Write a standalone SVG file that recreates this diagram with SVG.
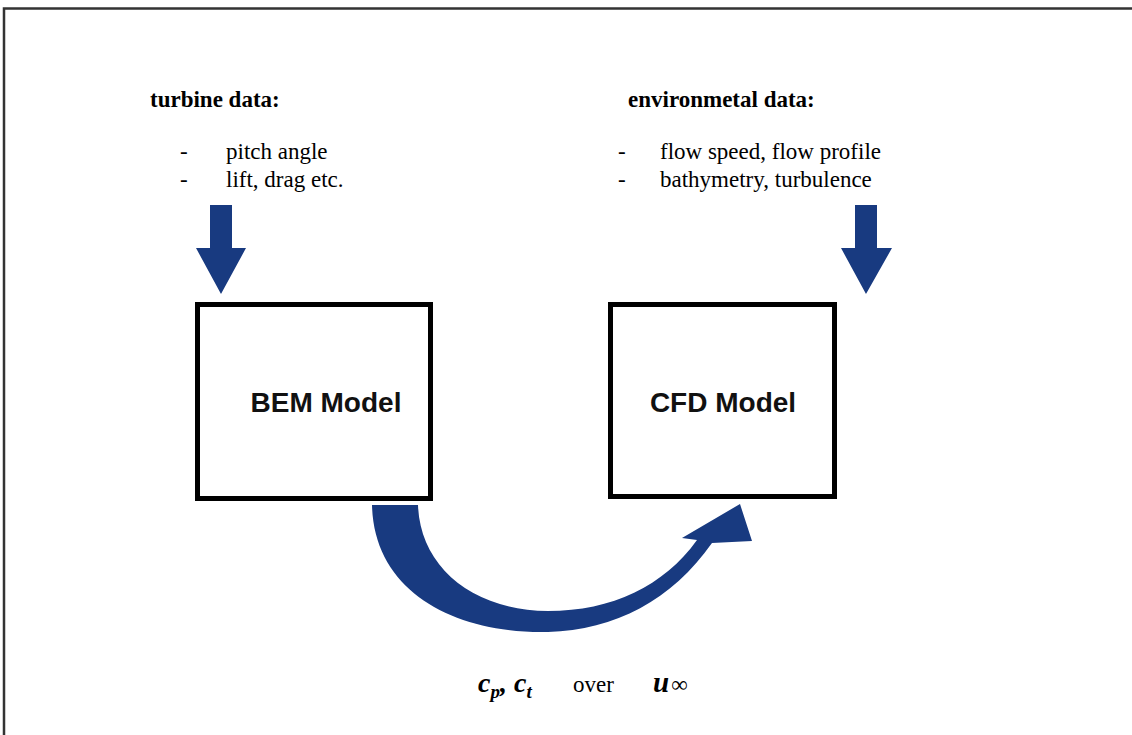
<svg xmlns="http://www.w3.org/2000/svg" width="1132" height="735" viewBox="0 0 1132 735">
<style>
.serif{font-family:"Liberation Serif","Times New Roman",serif;fill:#000;font-size:23px}
.head{font-weight:bold}
.box{fill:#fff;stroke:#000;stroke-width:5}
.lbl{font-family:"Liberation Sans",Arial,sans-serif;font-weight:bold;font-size:28px;fill:#111;text-anchor:middle}
.arr{fill:#183a80}
.math{font-family:"Liberation Serif","Times New Roman",serif;font-weight:bold;font-style:italic;fill:#000}
</style>
<rect width="1132" height="735" fill="#fff"/>
<g id="frame">
<path d="M4 735 V8.5 H1132" fill="none" stroke="#333" stroke-width="2.5"/>
</g>
<g id="turbine-data">
<text class="serif head" x="150" y="107">turbine data:</text>
<text class="serif" x="180" y="159">-</text>
<text class="serif" x="226" y="159">pitch angle</text>
<text class="serif" x="180" y="187">-</text>
<text class="serif" x="226" y="187">lift, drag etc.</text>
</g>
<g id="environmental-data">
<text class="serif head" x="628" y="107">environmetal data:</text>
<text class="serif" x="618" y="159">-</text>
<text class="serif" x="660" y="159">flow speed, flow profile</text>
<text class="serif" x="618" y="187">-</text>
<text class="serif" x="660" y="187">bathymetry, turbulence</text>
</g>
<g id="bem-model">
<rect class="box" x="197.5" y="304.5" width="233" height="194"/>
<text class="lbl" x="326" y="412">BEM Model</text>
</g>
<g id="cfd-model">
<rect class="box" x="610.5" y="304.5" width="224" height="192"/>
<text class="lbl" x="723" y="412">CFD Model</text>
</g>
<g id="connectors">
<path class="arr" d="M210 205 H232 V248 H246 L221 294 L196 248 H210 Z"/>
<path class="arr" d="M855 205 H877 V248 H892 L866 294 L841 248 H855 Z"/>
<path class="arr" d="M372 505 C374 592 455 634 548 632 C615 630 672 600 712 543 L752 541 L740 504 L682 538 L697 540 C664 586 612 611 548 611 C470 610 420 565 418 505 Z"/>
</g>
<g id="result-label">
<text class="math" x="478" y="692" font-size="28">c<tspan font-size="19" dy="6">p</tspan><tspan dy="-6">, c</tspan><tspan font-size="19" dy="6">t</tspan></text>
<text class="serif" x="573" y="692" font-size="22">over</text>
<text class="math" x="653" y="692" font-size="29">u<tspan class="serif" font-style="normal" font-weight="normal" font-size="27" dx="2">∞</tspan></text>
</g>
</svg>
